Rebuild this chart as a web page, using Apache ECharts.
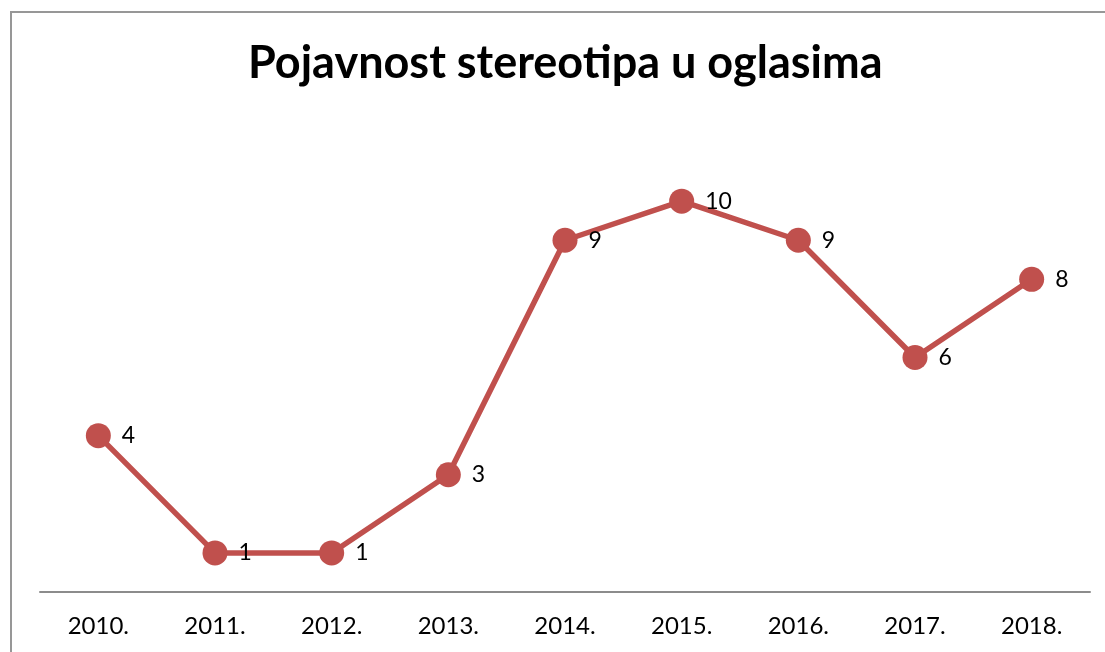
<!DOCTYPE html>
<html>
<head>
<meta charset="utf-8">
<script src="https://cdn.jsdelivr.net/npm/echarts@6/dist/echarts.min.js"></script>
<style>
  html, body { margin: 0; padding: 0; background: #fff; }
  #wrap { position: relative; width: 1105px; height: 652px; overflow: hidden; }
  #frame {
    position: absolute; left: 10px; top: 11px; width: 1200px; height: 800px;
    border-left: 2px solid #979797; border-top: 2px solid #979797;
  }
  #chart { position: absolute; left: 0; top: 0; width: 1105px; height: 652px; }
</style>
</head>
<body>
<div id="wrap">
  <div id="frame"></div>
  <div id="chart"></div>
</div>
<script>
const years = ['2010.', '2011.', '2012.', '2013.', '2014.', '2015.', '2016.', '2017.', '2018.'];
const counts = [4, 1, 1, 3, 9, 10, 9, 6, 8];
const titleText = 'Pojavnost stereotipa u oglasima';

const chart = echarts.init(document.getElementById('chart'), null, { renderer: 'canvas' });

chart.setOption({
  backgroundColor: 'transparent',
  animation: false,
  title: {
    text: titleText,
    left: 248,
    top: 41,
    padding: 0,
    textStyle: {
      fontFamily: 'Lato, "Open Sans", sans-serif',
      fontWeight: 'bold',
      fontSize: 45,
      color: '#000'
    }
  },
  grid: { left: 40, right: 15, top: 123, bottom: 60 },
  xAxis: {
    type: 'category',
    data: years,
    boundaryGap: true,
    axisLine: { lineStyle: { color: '#8c8c8c', width: 2 } },
    axisTick: { show: false },
    axisLabel: {
      color: '#000',
      fontSize: 24,
      fontFamily: 'Lato, "Open Sans", sans-serif',
      margin: 22
    }
  },
  yAxis: {
    type: 'value',
    min: 0,
    max: 12,
    show: false,
    splitLine: { show: false }
  },
  series: [
    {
      type: 'line',
      data: counts,
      symbol: 'circle',
      symbolSize: 25,
      lineStyle: { color: '#c0504d', width: 5.5 },
      itemStyle: { color: '#c0504d' },
      label: {
        show: true,
        position: 'right',
        distance: 11,
        color: '#000',
        fontSize: 23,
        fontFamily: 'Lato, "Open Sans", sans-serif'
      }
    }
  ]
});
</script>
</body>
</html>
